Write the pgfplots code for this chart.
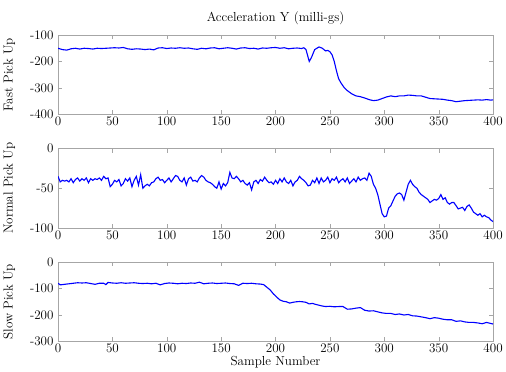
\documentclass[border=0pt]{standalone}
\usepackage{pgfplots}
\pgfplotsset{compat=1.18}
\begin{document}
\begin{tikzpicture}[font=\fontsize{13}{15}\selectfont]
\pgfplotsset{
  panel/.style={
    scale only axis, width=433pt, height=79pt,
    xmin=0, xmax=400, xtick={0,50,...,400},
    tick align=inside, tick pos=both,
    axis line style={gray!70}, major tick style={gray!70},
    /pgf/number format/assume math mode=true,
    /pgf/number format/1000 sep={},
    yticklabel style={xshift=-1pt},
    xticklabel style={yshift=1pt},
    ylabel style={yshift=8pt},
  },
  line/.style={blue, line width=1.1pt, mark=none},
}
\begin{axis}[panel, name=a1, ymin=-400, ymax=-100, ytick={-400,-300,-200,-100},
  ylabel={Fast Pick Up}, title={Acceleration Y (milli-gs)}, title style={yshift=1pt}]
\addplot[line] coordinates {
(0,-150)(4,-155)(8,-157)(12,-152)(16,-150)(20,-153)(24,-150)(28,-151)(32,-153)(36,-150)
(40,-151)(44,-150)(48,-149)(52,-148)(56,-149)(60,-147)(64,-152)(68,-154)(72,-152)(76,-153)
(80,-155)(84,-153)(88,-156)(92,-149)(96,-148)(100,-151)(104,-149)(108,-150)(112,-148)(116,-150)
(120,-149)(124,-152)(128,-154)(132,-150)(136,-152)(140,-149)(144,-148)(148,-152)(152,-150)(156,-148)
(160,-150)(164,-153)(168,-149)(172,-148)(176,-151)(180,-150)(184,-153)(188,-149)(192,-150)(196,-148)
(200,-147)(204,-150)(208,-148)(212,-152)(216,-150)(220,-149)(224,-151)(226,-148)(228,-155)(230,-185)
(231,-200)(233,-185)(236,-155)(240,-145)(243,-150)(246,-160)(248,-158)(250,-163)(252,-175)(254,-200)
(256,-235)(258,-265)(260,-280)(263,-298)(266,-310)(270,-322)(274,-330)(278,-333)(282,-338)(286,-344)
(290,-348)(294,-346)(298,-340)(302,-334)(306,-330)(310,-333)(314,-330)(318,-330)(322,-327)(326,-328)
(330,-330)(334,-330)(338,-335)(342,-340)(346,-341)(350,-342)(354,-343)(358,-346)(362,-348)(366,-352)
(370,-350)(374,-348)(378,-347)(382,-346)(386,-345)(390,-346)(394,-344)(398,-346)(400,-345)
};
\end{axis}
\begin{axis}[panel, at={(0,-113pt)}, ymin=-100, ymax=0, ytick={-100,-50,0},
  ylabel={Normal Pick Up}]
\addplot[line] coordinates {
(0,-35)(2,-42)(4,-40)(6,-41)(8,-40)(10,-42)(12,-38)(14,-43)(16,-39)(18,-37)
(20,-41)(22,-38)(24,-40)(26,-37)(28,-43)(30,-38)(32,-40)(34,-38)(36,-39)(38,-37)
(40,-40)(42,-35)(44,-38)(46,-37)(48,-48)(50,-45)(52,-40)(54,-42)(56,-39)(58,-47)
(60,-44)(62,-38)(64,-41)(66,-37)(68,-48)(70,-40)(72,-35)(74,-46)(76,-33)(78,-50)
(80,-47)(82,-45)(84,-47)(86,-43)(88,-42)(90,-38)(92,-36)(94,-40)(96,-39)(98,-43)
(100,-40)(102,-37)(104,-42)(106,-38)(108,-34)(110,-35)(112,-40)(114,-42)(116,-37)(118,-46)
(120,-38)(122,-36)(124,-41)(126,-40)(128,-42)(130,-37)(132,-34)(134,-36)(136,-40)(138,-42)
(140,-43)(142,-45)(144,-48)(146,-50)(148,-42)(150,-51)(152,-44)(154,-47)(156,-43)(158,-30)
(160,-37)(162,-38)(164,-35)(166,-38)(168,-42)(170,-40)(172,-44)(174,-46)(176,-43)(178,-52)
(180,-42)(182,-40)(184,-44)(186,-39)(188,-41)(190,-36)(192,-40)(194,-43)(196,-42)(198,-45)
(200,-40)(202,-44)(204,-38)(206,-42)(208,-37)(210,-42)(212,-44)(214,-40)(216,-47)(218,-42)
(220,-40)(222,-35)(224,-38)(226,-40)(228,-43)(230,-47)(232,-46)(234,-40)(236,-43)(238,-37)
(240,-44)(242,-37)(244,-42)(246,-40)(248,-36)(250,-43)(252,-38)(254,-40)(256,-36)(258,-43)
(260,-40)(262,-38)(264,-42)(266,-37)(268,-44)(270,-41)(272,-38)(274,-42)(276,-36)(278,-40)
(280,-38)(282,-37)(284,-40)(286,-31)(288,-35)(290,-45)(292,-50)(294,-58)(296,-70)(298,-82)
(300,-86)(302,-85)(304,-75)(306,-72)(308,-66)(310,-60)(312,-57)(314,-56)(316,-58)(318,-65)
(320,-55)(322,-45)(324,-40)(326,-45)(328,-48)(330,-50)(332,-55)(334,-58)(336,-60)(338,-62)
(340,-64)(342,-68)(344,-66)(346,-64)(348,-65)(350,-63)(352,-58)(354,-64)(356,-62)(358,-68)
(360,-70)(362,-68)(364,-68)(366,-72)(368,-76)(370,-75)(372,-74)(374,-78)(376,-73)(378,-71)
(380,-75)(382,-80)(384,-82)(386,-84)(388,-82)(390,-86)(392,-84)(394,-86)(396,-87)(398,-90)(400,-92)
};
\end{axis}
\begin{axis}[panel, at={(0,-226pt)}, ymin=-300, ymax=0, ytick={-300,-200,-100,0},
  ylabel={Slow Pick Up}, xlabel={Sample Number}, xlabel style={yshift=4pt}]
\addplot[line] coordinates {
(0,-80)(2,-86)(6,-84)(10,-82)(14,-80)(18,-78)(22,-79)(26,-78)(30,-81)(34,-84)
(38,-80)(42,-80)(44,-85)(46,-77)(50,-79)(54,-80)(58,-78)(62,-80)(66,-79)(70,-78)
(74,-80)(78,-81)(82,-80)(86,-82)(90,-80)(94,-86)(98,-81)(102,-79)(106,-80)(110,-82)
(114,-80)(118,-81)(122,-79)(126,-80)(130,-76)(134,-82)(138,-80)(142,-79)(146,-81)(150,-80)
(154,-79)(158,-81)(162,-82)(166,-88)(170,-80)(174,-81)(178,-80)(182,-82)(186,-83)(189,-85)
(192,-95)(195,-105)(198,-120)(201,-132)(204,-143)(207,-148)(210,-150)(213,-155)(216,-152)(219,-150)
(222,-149)(225,-150)(228,-152)(231,-158)(234,-156)(237,-160)(240,-163)(243,-166)(246,-168)(250,-167)
(254,-169)(258,-168)(262,-168)(266,-178)(270,-177)(274,-174)(278,-172)(282,-182)(286,-185)(290,-184)
(294,-188)(298,-192)(302,-194)(306,-194)(310,-198)(314,-196)(318,-200)(322,-198)(326,-203)(330,-204)
(334,-207)(338,-210)(342,-214)(346,-210)(350,-212)(354,-216)(358,-218)(362,-218)(366,-224)(370,-222)
(374,-226)(378,-228)(382,-228)(386,-230)(390,-233)(394,-228)(398,-232)(400,-234)
};
\end{axis}
\path ([yshift=8pt]current bounding box.north);
\end{tikzpicture}
\end{document}
